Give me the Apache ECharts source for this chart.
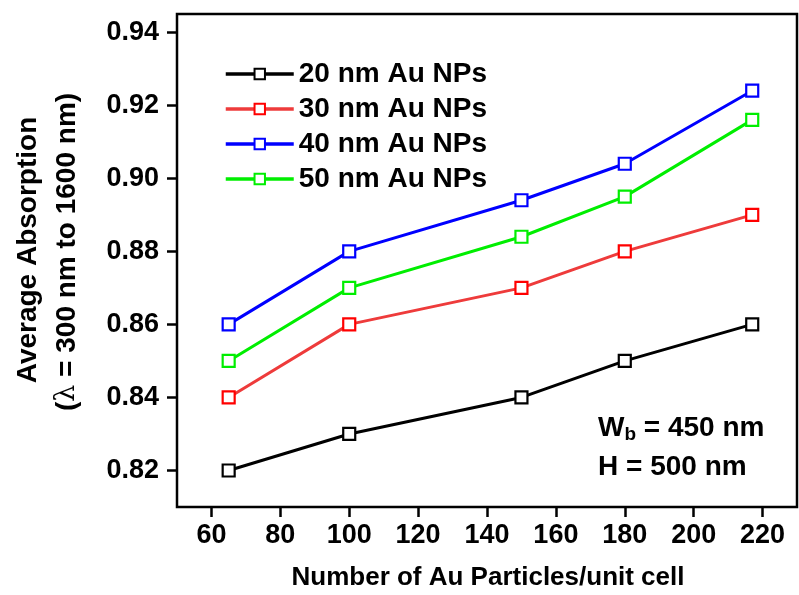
<!DOCTYPE html>
<html>
<head>
<meta charset="utf-8">
<script src="https://cdn.jsdelivr.net/npm/echarts@6/dist/echarts.min.js"></script>
<style>html,body{margin:0;padding:0;background:#fff}#main{width:799px;height:595px}</style>
</head>
<body>
<div id="main"></div>
<script>
// values
var particles = [65, 100, 150, 180, 217];
var abs20 = [0.82, 0.83, 0.84, 0.85, 0.86];
var abs30 = [0.84, 0.86, 0.87, 0.88, 0.89];
var abs40 = [0.86, 0.88, 0.894, 0.904, 0.924];
var abs50 = [0.85, 0.87, 0.884, 0.895, 0.916];
var names = ['20 nm Au NPs', '30 nm Au NPs', '40 nm Au NPs', '50 nm Au NPs'];
var lineColors = ['#000000', '#ee3b3b', '#0000ff', '#00ee00'];
var markColors = ['#000000', '#ff0000', '#0000ff', '#00ee00'];

var FONT = '"Liberation Sans", Arial, Helvetica, sans-serif';

function pairs(ys){
    var out = [];
    for (var i = 0; i < particles.length; i++) out.push([particles[i], ys[i]]);
    return out;
}

var chart = echarts.init(document.getElementById('main'));

// plot box runs 50..230 / 0.81..0.945, ticks only 60..220 / 0.82..0.94
var L = 177, R = 2, T = 14, B = 88;
var pxX = (799 - L - R) / 180;
var pxY = (595 - T - B) / 0.135;

function makeSeries(ys, k){
    return {
        name: names[k],
        type: 'line',
        xAxisIndex: 0,
        yAxisIndex: 0,
        data: pairs(ys),
        symbol: 'rect',
        symbolSize: 12,
        lineStyle: {color: lineColors[k], width: 3},
        itemStyle: {color: '#fff', borderColor: markColors[k], borderWidth: 2.2},
        emphasis: {disabled: true}
    };
}

var option = {
    backgroundColor: '#fff',
    animation: false,
    textStyle: {fontFamily: FONT},
    grid: [
        {left: L, right: R, top: T, bottom: B, show: true, borderColor: '#000', borderWidth: 2.5, backgroundColor: 'transparent'},
        {left: L + 10 * pxX, right: R + 10 * pxX, top: T + 0.005 * pxY, bottom: B + 0.01 * pxY}
    ],
    xAxis: [
        {gridIndex: 0, type: 'value', min: 50, max: 230, axisLine: {show: false}, axisTick: {show: false}, axisLabel: {show: false}, splitLine: {show: false}},
        {gridIndex: 1, type: 'value', min: 60, max: 220, interval: 20, offset: 0.01 * pxY,
         axisLine: {show: false},
         axisTick: {show: true, length: 10, lineStyle: {color: '#000', width: 2.5}},
         axisLabel: {color: '#000', fontSize: 27, fontWeight: 'bold', fontFamily: FONT, margin: 15},
         splitLine: {show: false}}
    ],
    yAxis: [
        {gridIndex: 0, type: 'value', min: 0.81, max: 0.945, axisLine: {show: false}, axisTick: {show: false}, axisLabel: {show: false}, splitLine: {show: false}},
        {gridIndex: 1, type: 'value', min: 0.82, max: 0.94, interval: 0.02, offset: 10 * pxX,
         axisLine: {show: false},
         axisTick: {show: true, length: 10, lineStyle: {color: '#000', width: 2.5}},
         axisLabel: {color: '#000', fontSize: 27, fontWeight: 'bold', fontFamily: FONT, margin: 18,
                     formatter: function(v){ return v.toFixed(2); }},
         splitLine: {show: false}}
    ],
    legend: {
        orient: 'vertical',
        left: 219,
        top: 55,
        itemWidth: 68,
        itemHeight: 13,
        itemGap: 7,
        data: names,
        lineStyle: {width: 3.5},
        textStyle: {color: '#000', fontSize: 28, fontWeight: 'bold', fontFamily: FONT, lineHeight: 28}
    },
    graphic: [
        {type: 'text', x: 488, y: 578,
         style: {text: 'Number of Au Particles/unit cell', fill: '#000', font: 'bold 26px ' + FONT, textAlign: 'center', textVerticalAlign: 'middle'}},
        {type: 'text', x: 28, y: 250, rotation: Math.PI / 2,
         style: {text: 'Average Absorption', fill: '#000', font: 'bold 28px ' + FONT, textAlign: 'center', textVerticalAlign: 'middle'}},
        {type: 'text', x: 67, y: 252, rotation: Math.PI / 2,
         style: {text: '({l|λ} = 300 nm to 1600 nm)', fill: '#000', font: 'bold 28px ' + FONT, textAlign: 'center', textVerticalAlign: 'middle',
                 rich: {l: {fontFamily: 'DejaVu Serif, serif', fontWeight: 'normal', fontSize: 27, fill: '#000'}}}},
        {type: 'text', x: 598, y: 428,
         style: {text: 'W{s|b} = 450 nm', fill: '#000', font: 'bold 28px ' + FONT, textVerticalAlign: 'middle',
                 rich: {s: {fontSize: 19, fontWeight: 'bold', fontFamily: FONT, fill: '#000', verticalAlign: 'bottom', padding: [13, 0, 0, 0]}}}},
        {type: 'text', x: 598, y: 467,
         style: {text: 'H = 500 nm', fill: '#000', font: 'bold 28px ' + FONT, textVerticalAlign: 'middle'}}
    ],
    series: [
        makeSeries(abs20, 0),
        makeSeries(abs30, 1),
        makeSeries(abs40, 2),
        makeSeries(abs50, 3)
    ]
};

chart.setOption(option);
</script>
</body>
</html>
